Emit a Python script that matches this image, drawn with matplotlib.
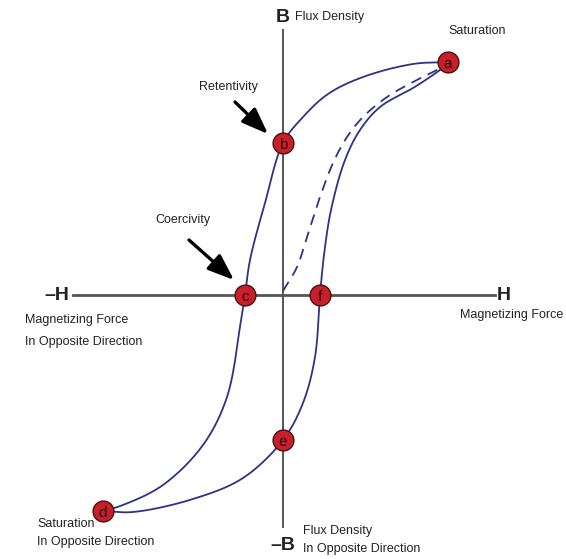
"""Magnetic hysteresis loop diagram (B-H curve)."""

import matplotlib
matplotlib.use('Agg')
import matplotlib.pyplot as plt
import numpy as np

# Coordinates: H to the right, B upward, origin where the axes cross (arbitrary units)
# Key points of the loop
point_labels = ['a', 'b', 'c', 'd', 'e', 'f']
point_h = [165, 0, -38, -180, 0, 37]
point_b = [233, 152, 0, -216, -145, 0]

# Upper branch a -> b -> c -> d
upper_h = [165, 130, 80, 45, 20, 0, -18, -33, -38, -42, -56, -80, -120, -160, -180]
upper_b = [233, 231, 218, 201, 178, 152, 92, 35, 0, -25, -102, -150, -190, -210, -216]

# Lower branch d -> e -> f -> a
lower_h = [-180, -150, -90, -40, 0, 20, 32, 37, 41, 48, 62, 77, 97, 130, 150, 165]
lower_b = [-216, -217, -204, -183, -145, -108, -62, 0, 40, 85, 135, 165, 188, 207, 220, 231]

# Initial magnetization (dashed) 0 -> a
virgin_h = [0, 14, 24, 37, 50, 64, 80, 104, 130, 152, 158]
virgin_b = [4, 28, 58, 98, 132, 158, 178, 198, 213, 224, 227]


def smooth(xs, ys, n=24, alpha=0.5):
    """Centripetal Catmull-Rom curve through the given points."""
    p = np.column_stack([xs, ys]).astype(float)
    p = np.vstack([2 * p[0] - p[1], p, 2 * p[-1] - p[-2]])
    out = []
    for i in range(1, len(p) - 2):
        p0, p1, p2, p3 = p[i - 1], p[i], p[i + 1], p[i + 2]
        t0 = 0.0
        t1 = t0 + np.linalg.norm(p1 - p0) ** alpha
        t2 = t1 + np.linalg.norm(p2 - p1) ** alpha
        t3 = t2 + np.linalg.norm(p3 - p2) ** alpha
        t = np.linspace(t1, t2, n, endpoint=False)[:, None]
        a1 = (t1 - t) / (t1 - t0) * p0 + (t - t0) / (t1 - t0) * p1
        a2 = (t2 - t) / (t2 - t1) * p1 + (t - t1) / (t2 - t1) * p2
        a3 = (t3 - t) / (t3 - t2) * p2 + (t - t2) / (t3 - t2) * p3
        b1 = (t2 - t) / (t2 - t0) * a1 + (t - t0) / (t2 - t0) * a2
        b2 = (t3 - t) / (t3 - t1) * a2 + (t - t1) / (t3 - t1) * a3
        out.append((t2 - t) / (t2 - t1) * b1 + (t - t1) / (t2 - t1) * b2)
    out.append(p[-2][None, :])
    out = np.vstack(out)
    return out[:, 0], out[:, 1]


plt.rcParams['font.family'] = ['Liberation Sans Narrow', 'Liberation Sans', 'DejaVu Sans']

fig = plt.figure(figsize=(5.66, 5.59), dpi=100)
ax = fig.add_axes([0, 0, 1, 1])
ax.set_xlim(-283, 283)
ax.set_ylim(-264, 295)
ax.axis('off')

axis_color = '#555555'
curve_color = '#2e3384'
dot_color = '#c8202a'
text_color = '#222222'

# Axes
ax.plot([-210, 212], [0, 0], color=axis_color, lw=2, zorder=1)
ax.plot([0, 0], [-232, 265], color=axis_color, lw=1.4, zorder=1)

# Loop
x, y = smooth(upper_h, upper_b)
ax.plot(x, y, color=curve_color, lw=1.3, zorder=2)
x, y = smooth(lower_h, lower_b)
ax.plot(x, y, color=curve_color, lw=1.3, zorder=2)
x, y = smooth(virgin_h, virgin_b)
ax.plot(x, y, color=curve_color, lw=1.3, ls=(0, (6, 4)), zorder=2)

# Points
for lab, h, b in zip(point_labels, point_h, point_b):
    ax.plot(h, b, 'o', ms=15, color=dot_color, mec='#4a1010', mew=1.0, zorder=3)
    ax.text(h, b - 2, lab, ha='center', va='center', fontsize=11,
            color='#2a0a0a', zorder=4)

# Axis labels
txt = dict(color=text_color, fontsize=9)
big = dict(color=text_color, fontsize=14, fontweight='bold', ha='center', va='center')
ax.text(0, 278, 'B', **big)
ax.text(12, 278, 'Flux Density', ha='left', va='center', **txt)
ax.text(0, -250, '\u2013B', **big)
ax.text(20, -236, 'Flux Density', ha='left', va='center', **txt)
ax.text(20, -254, 'In Opposite Direction', ha='left', va='center', **txt)
ax.text(-226, 0, '\u2013H', **big)
ax.text(-258, -25, 'Magnetizing Force', ha='left', va='center', **txt)
ax.text(-258, -47, 'In Opposite Direction', ha='left', va='center', **txt)
ax.text(221, 0, 'H', **big)
ax.text(177, -20, 'Magnetizing Force', ha='left', va='center', **txt)
ax.text(194, 264, 'Saturation', ha='center', va='center', **txt)
ax.text(-246, -229, 'Saturation', ha='left', va='center', **txt)
ax.text(-246, -247, 'In Opposite Direction', ha='left', va='center', **txt)
ax.text(-55, 208, 'Retentivity', ha='center', va='center', **txt)
ax.text(-100, 75, 'Coercivity', ha='center', va='center', **txt)

# Arrows
arrow = dict(arrowstyle='-|>,head_length=1.0,head_width=0.38', color='black', lw=2.4,
             mutation_scale=16, shrinkA=0, shrinkB=0)
ax.annotate('', xy=(-15, 161), xytext=(-48, 193), arrowprops=arrow)
ax.annotate('', xy=(-49, 15), xytext=(-94, 55), arrowprops=arrow)

fig.savefig('out.png', dpi=100, facecolor='white')
plt.close(fig)
